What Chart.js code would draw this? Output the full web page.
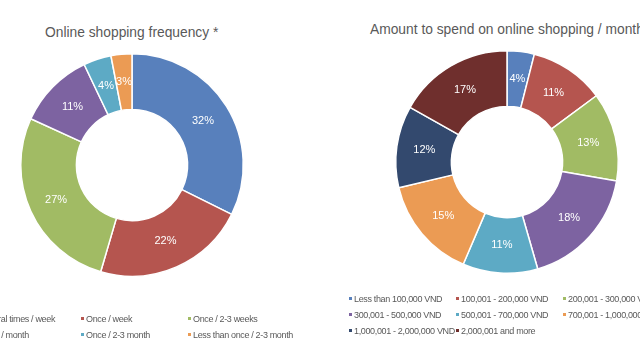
<!DOCTYPE html>
<html>
<head>
<meta charset="utf-8">
<script src="https://cdn.jsdelivr.net/npm/chart.js@4"></script>
<style>
  html, body { margin: 0; padding: 0; background: #fff; }
  body { width: 640px; height: 360px; position: relative; overflow: hidden; font-family: "Liberation Sans", Arial, sans-serif; }
  .title { position: absolute; color: #595959; font-size: 13.8px; white-space: nowrap; }
  .box { position: absolute; }
  .leg { position: absolute; color: #595959; font-size: 9px; letter-spacing: -0.35px; white-space: nowrap; line-height: 10px; }
  .leg i { display: inline-block; width: 3px; height: 3px; margin-right: 2px; vertical-align: middle; position: relative; top: -1px; }
</style>
</head>
<body>
<div class="title" id="t1" style="left:45px; top:25px;">Online shopping frequency *</div>
<div class="title" id="t2" style="left:370px; top:22px;">Amount to spend on online shopping / month</div>
<div class="box" style="left:-100px; top:0; width:464px; height:360px;"><canvas id="freq"></canvas></div>
<div class="box" style="left:357px; top:0; width:300px; height:360px;"><canvas id="spend"></canvas></div>
<div id="leg1"></div>
<div id="leg2"></div>
<script>
console.log("JS Loaded");
/* global Chart */
const freqLabels = ["Several times / week", "Once / week", "Once / 2-3 weeks", "Once / month", "Once / 2-3 month", "Less than once / 2-3 month"];
const freqValues = [32, 22, 27, 11, 4, 3];
const freqColors = ["#5880BC", "#B5554F", "#A1BB64", "#7D63A1", "#5DAAC5", "#EB9B54"];

const spendLabels = ["Less than 100,000 VND", "100,001 - 200,000 VND", "200,001 - 300,000 VND", "300,001 - 500,000 VND",
  "500,001 - 700,000 VND", "700,001 - 1,000,000 VND", "1,000,001 - 2,000,000 VND", "2,000,001 and more"];
const spendValues = [4, 11, 13, 18, 11, 15, 12, 17];
const spendColors = ["#5880BC", "#B5554F", "#A1BB64", "#7D63A1", "#5DAAC5", "#EB9B54", "#33496E", "#6F2F2D"];

// percent text in the middle of each slice
const pctLabels = {
  id: 'pctLabels',
  afterDatasetsDraw(chart) {
    const ctx = chart.ctx;
    const vals = chart.data.datasets[0].data;
    chart.getDatasetMeta(0).data.forEach((arc, i) => {
      const p = arc.tooltipPosition(true);
      ctx.save();
      ctx.fillStyle = '#ffffff';
      ctx.font = '11px "Liberation Sans", Arial, sans-serif';
      ctx.textAlign = 'center';
      ctx.textBaseline = 'middle';
      ctx.fillText(vals[i] + '%', p.x, p.y);
      ctx.restore();
    });
  }
};

function doughnut(id, labels, values, colors, pad) {
  new Chart(document.getElementById(id), {
    type: 'doughnut',
    data: {
      labels: labels,
      datasets: [{
        data: values,
        backgroundColor: colors,
        borderColor: '#ffffff',
        borderWidth: 1.5
      }]
    },
    options: {
      cutout: '50%',
      animation: false,
      responsive: true,
      maintainAspectRatio: false,
      layout: { padding: pad },
      plugins: {
        legend: { display: false },
        tooltip: { enabled: false }
      }
    },
    plugins: [pctLabels]
  });
}
doughnut('freq', freqLabels, freqValues, freqColors, { top: 53, bottom: 83, left: 0, right: 0 });
doughnut('spend', spendLabels, spendValues, spendColors, { top: 50, bottom: 86, left: 0, right: 0 });

function legend(id, labels, colors, x0, y0, dx, dy) {
  const box = document.getElementById(id);
  labels.forEach((lab, i) => {
    const item = document.createElement('div');
    item.className = 'leg';
    item.style.left = (x0 + (i % 3) * dx) + 'px';
    item.style.top = (y0 + Math.floor(i / 3) * dy) + 'px';
    item.innerHTML = '<i style="background:' + colors[i] + '"></i>' + lab;
    box.appendChild(item);
  });
}
legend('leg1', freqLabels, freqColors, -26, 314, 107, 16);
legend('leg2', spendLabels, spendColors, 349, 294, 107, 16);
</script>
</body>
</html>
